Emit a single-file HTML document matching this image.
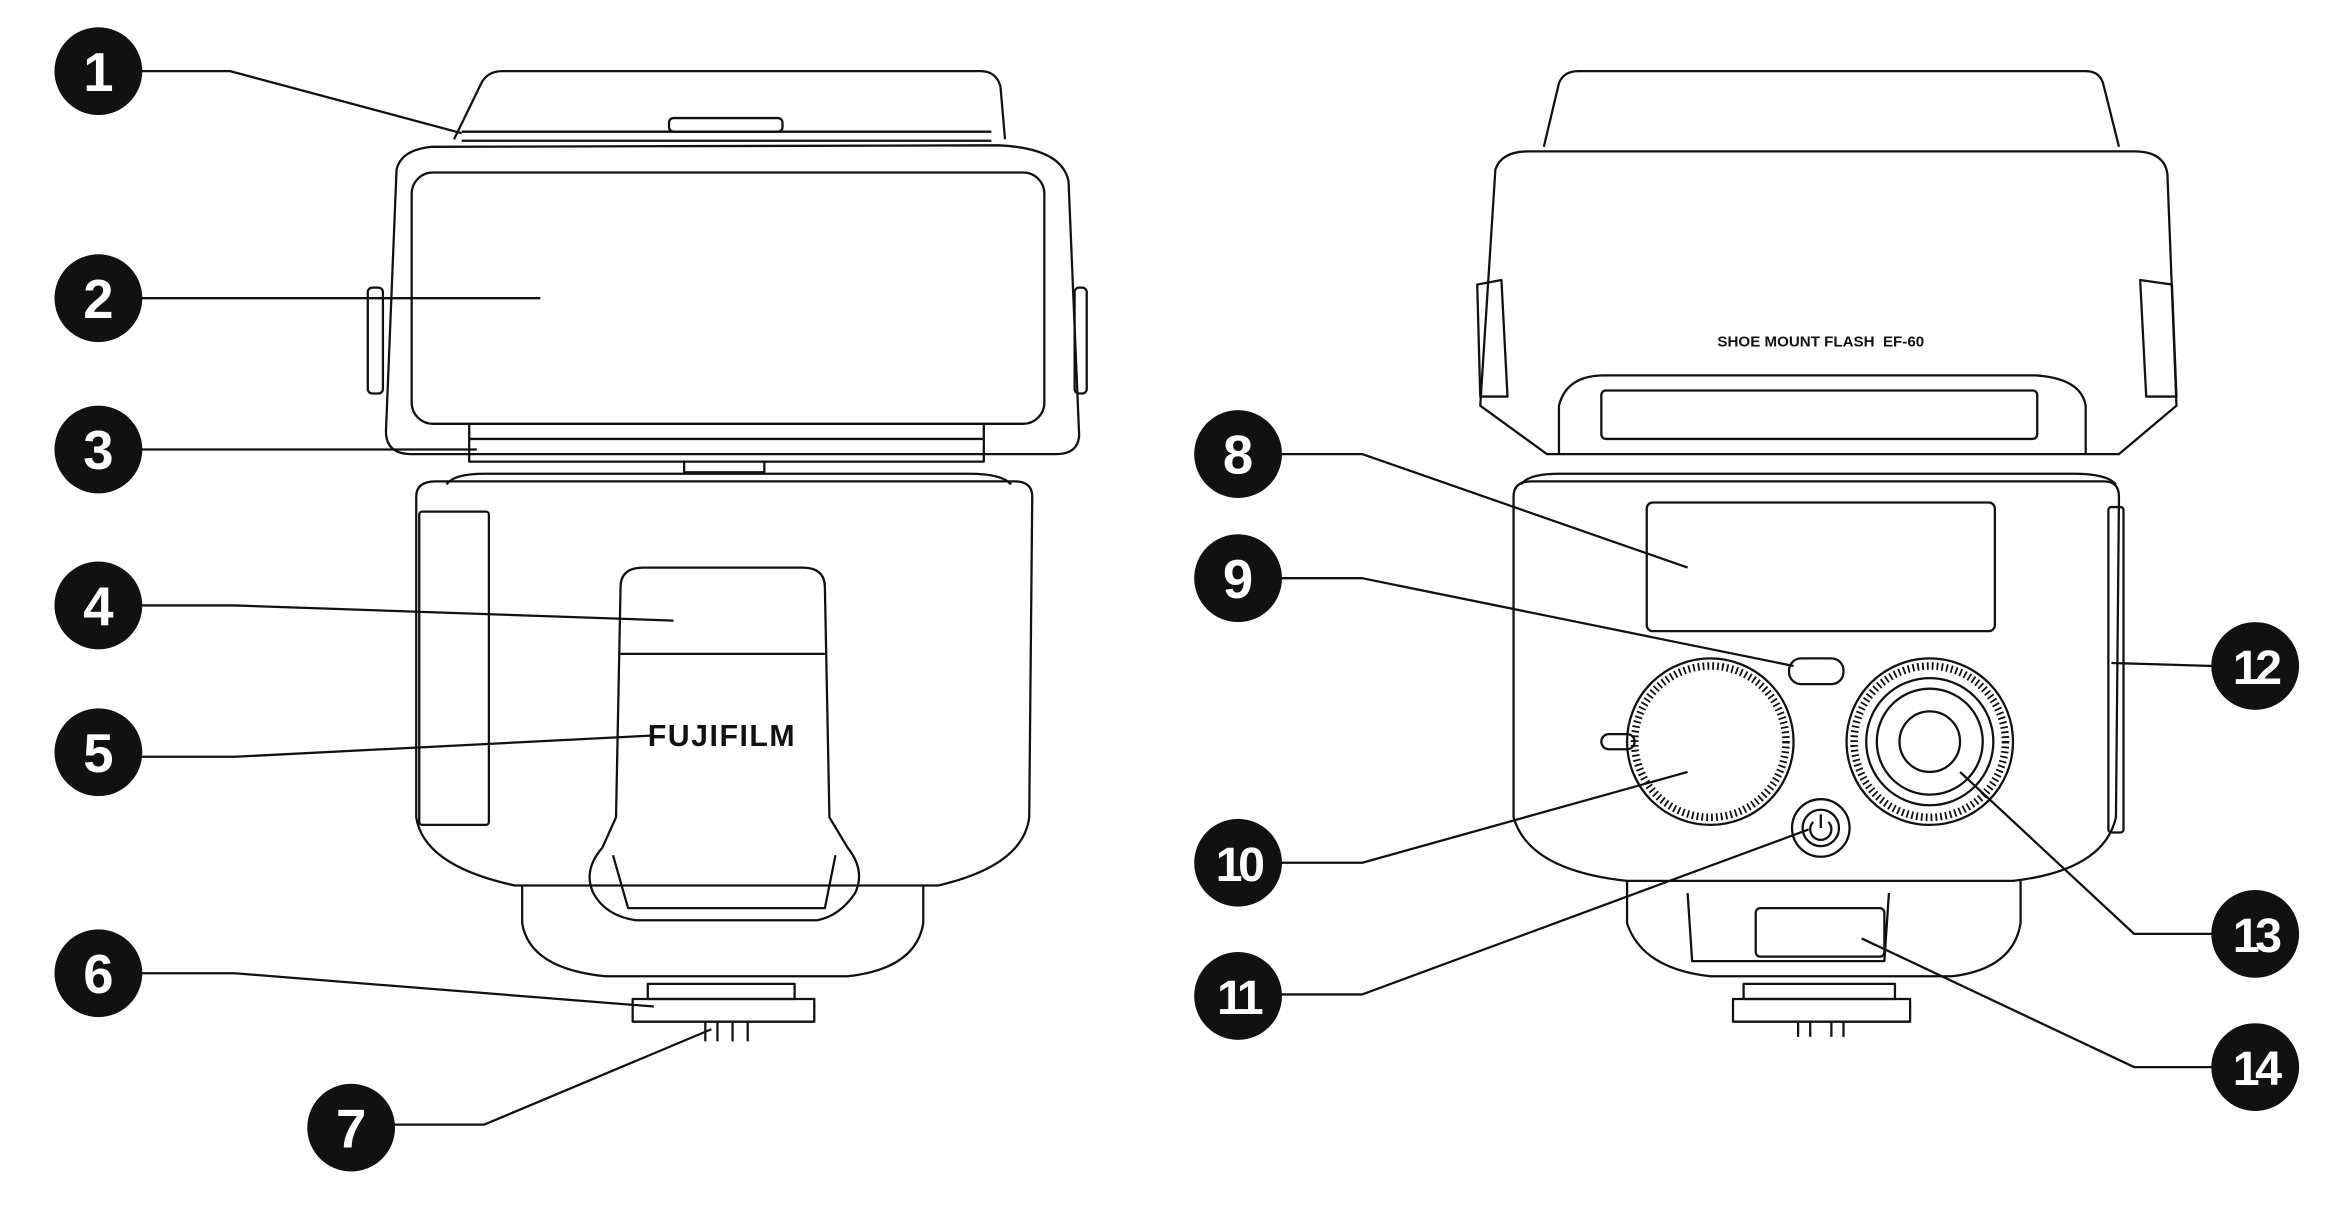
<!DOCTYPE html>
<html><head><meta charset="utf-8"><style>
html,body{margin:0;padding:0;background:#fff}
svg{display:block}
</style></head><body>
<svg width="2346" height="1213" viewBox="0 0 1550 801.4" preserveAspectRatio="none" xmlns="http://www.w3.org/2000/svg">
<g fill="none" stroke="#111" stroke-width="1.5" stroke-linejoin="round">
<!-- LEFT FLASH -->
<path d="M300,92 L318,55 Q322,47 332,47 L648,47 Q658,47 661,57 L664,92"/>
<path d="M305,87 L655,87 M305,93 L655,93"/>
<rect x="442" y="78" width="75" height="9" rx="3"/>
<path d="M262,112 Q265,99 285,97 L660,96 Q702,98 706,120 L713,288 Q712,300 698,300 L272,300 Q255,300 255,285 Z"/>
<rect x="272" y="114" width="418" height="166" rx="14"/>
<rect x="243" y="190" width="10" height="70" rx="3"/>
<rect x="710" y="190" width="8" height="70" rx="3"/>
<path d="M310,280 L310,305 L650,305 L650,280 M310,290 L650,290 M452,305 L452,312 L505,312 L505,305"/>
<path d="M295,320 Q300,313 320,313 L640,313 Q662,313 668,320"/>
<path d="M275,328 Q275,318 288,318 L670,318 Q682,318 682,328 L680,540 Q676,572 620,585 L340,585 Q280,572 275,540 Z"/>
<rect x="277" y="338" width="46" height="207" rx="2"/>
<path d="M345,585 L345,610 Q350,640 400,645 L560,645 Q605,640 610,610 L610,585"/>
<path d="M410,388 Q410,375 425,375 L530,375 Q545,375 545,388 L548,540 L560,560 Q572,575 565,590 Q555,605 540,608 L420,608 Q400,605 392,590 Q385,575 398,560 L407,540 Z"/>
<path d="M410,432 L545,432 M405,565 L415,600 L545,600 L552,565"/>
<rect x="428" y="650" width="97" height="10"/>
<rect x="418" y="660" width="120" height="15"/>
<path d="M466,675 L466,688 M474,675 L474,688 M484,675 L484,688 M494,675 L494,688"/>
<!-- RIGHT FLASH -->
<path d="M1020,97 L1030,55 Q1033,47 1043,47 L1378,47 Q1388,47 1390,57 L1400,97"/>
<path d="M988,112 Q992,100 1010,100 L1410,100 Q1430,100 1432,115 L1438,268 L1400,300 L1022,300 L978,268 Z"/>
<path d="M976,188 L992,185 L996,262 L978,262 Z M1414,185 L1435,188 L1438,262 L1418,262 Z"/>
<path d="M1030,300 L1030,268 Q1035,248 1060,248 L1345,248 Q1375,250 1378,268 L1378,300"/>
<rect x="1058" y="258" width="288" height="32" rx="3"/>
<path d="M1005,320 Q1010,313 1030,313 L1370,313 Q1392,313 1398,320"/>
<path d="M1000,328 Q1000,318 1012,318 L1390,318 Q1400,318 1400,328 L1398,540 Q1390,575 1330,582 L1075,582 Q1010,575 1000,540 Z"/>
<rect x="1088" y="332" width="230" height="85" rx="4"/>
<rect x="1182" y="435" width="36" height="17" rx="8"/>
<rect x="1058" y="485" width="22" height="10" rx="5"/>
<circle cx="1130" cy="490" r="55"/>
<circle cx="1130" cy="490" r="50" stroke-width="5" stroke-dasharray="1.2 2"/>
<circle cx="1275" cy="490" r="55"/>
<circle cx="1275" cy="490" r="50" stroke-width="5" stroke-dasharray="1.2 2"/>
<circle cx="1275" cy="490" r="42"/>
<circle cx="1275" cy="490" r="35"/>
<circle cx="1275" cy="490" r="20"/>
<circle cx="1203" cy="547" r="19"/>
<circle cx="1203" cy="547" r="12"/>
<path d="M1198,543 A7,7 0 1 0 1208,543 M1203,538 L1203,547"/>
<rect x="1393" y="335" width="10" height="215" rx="2"/>
<path d="M1075,582 L1075,610 Q1085,640 1130,645 L1290,645 Q1330,640 1335,610 L1335,582"/>
<path d="M1115,590 L1118,635 L1245,635 L1248,590"/>
<rect x="1160" y="600" width="85" height="32" rx="3"/>
<rect x="1152" y="650" width="100" height="10"/>
<rect x="1145" y="660" width="117" height="15"/>
<path d="M1188,675 L1188,685 M1196,675 L1196,685 M1210,675 L1210,685 M1218,675 L1218,685"/>
<!-- leader lines -->
<path d="M93,47 L152,47 L305,88"/>
<path d="M93,197 L357,197"/>
<path d="M93,297 L315,297"/>
<path d="M93,400 L155,400 L445,410"/>
<path d="M93,500 L155,500 L430,486"/>
<path d="M93,643 L155,643 L432,665"/>
<path d="M260,743 L320,743 L470,680"/>
<path d="M846,300 L900,300 L1115,375"/>
<path d="M846,382 L900,382 L1185,440"/>
<path d="M846,570 L900,570 L1115,510"/>
<path d="M846,657 L900,657 L1195,548"/>
<path d="M1462,440 L1395,438"/>
<path d="M1462,617 L1410,617 L1295,510"/>
<path d="M1462,705 L1410,705 L1230,620"/>
</g>
<text x="477" y="493" font-family="Liberation Sans, sans-serif" font-weight="bold" font-size="20" text-anchor="middle" letter-spacing="1" fill="#111">FUJIFILM</text>
<text x="1203" y="229" font-family="Liberation Sans, sans-serif" font-weight="bold" font-size="10" text-anchor="middle" fill="#111">SHOE MOUNT FLASH&#160;&#160;EF-60</text>
<g font-family="Liberation Sans, sans-serif" font-weight="bold" font-size="36" text-anchor="middle" fill="#fff">
<circle cx="65" cy="47" r="29" fill="#111"/><text x="65" y="60">1</text>
<circle cx="65" cy="197" r="29" fill="#111"/><text x="65" y="210">2</text>
<circle cx="65" cy="297" r="29" fill="#111"/><text x="65" y="310">3</text>
<circle cx="65" cy="400" r="29" fill="#111"/><text x="65" y="413">4</text>
<circle cx="65" cy="497" r="29" fill="#111"/><text x="65" y="510">5</text>
<circle cx="65" cy="643" r="29" fill="#111"/><text x="65" y="656">6</text>
<circle cx="232" cy="745" r="29" fill="#111"/><text x="232" y="758">7</text>
<circle cx="818" cy="300" r="29" fill="#111"/><text x="818" y="313">8</text>
<circle cx="818" cy="382" r="29" fill="#111"/><text x="818" y="395">9</text>
<circle cx="818" cy="570" r="29" fill="#111"/><text x="818" y="582" font-size="32" letter-spacing="-3">10</text>
<circle cx="818" cy="658" r="29" fill="#111"/><text x="818" y="670" font-size="32" letter-spacing="-3">11</text>
<circle cx="1490" cy="440" r="29" fill="#111"/><text x="1490" y="452" font-size="32" letter-spacing="-3">12</text>
<circle cx="1490" cy="617" r="29" fill="#111"/><text x="1490" y="629" font-size="32" letter-spacing="-3">13</text>
<circle cx="1490" cy="705" r="29" fill="#111"/><text x="1490" y="717" font-size="32" letter-spacing="-3">14</text>
</g>
</svg>
</body></html>
